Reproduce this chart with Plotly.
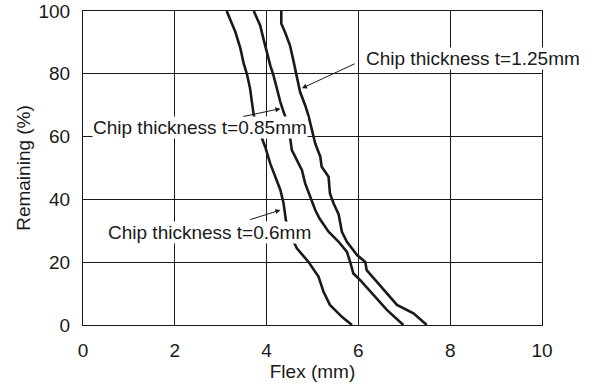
import plotly.graph_objects as go

# Curve data
x_t060 = [3.13, 3.32, 3.43, 3.50, 3.57, 3.64, 3.68, 3.72, 3.86, 3.97, 4.08, 4.19, 4.30, 4.37,
          4.42, 4.55, 4.66, 4.91, 5.13, 5.24, 5.38, 5.64, 5.86]
y_t060 = [100, 93.3, 88, 83.3, 80, 75.3, 71, 66.8, 61, 56.7, 51.4, 47.2, 43, 38.7,
          33.4, 27.6, 24.4, 20.1, 15.4, 10.6, 6.4, 2.6, 0]

x_t085 = [3.72, 3.86, 3.93, 4.00, 4.08, 4.15, 4.22, 4.30, 4.37, 4.44, 4.51, 4.55, 4.66, 4.77,
          4.84, 4.95, 5.06, 5.15, 5.35, 5.57, 5.75, 5.82, 5.89, 6.04, 6.33, 6.62, 6.98]
y_t085 = [100, 95.4, 91.2, 87, 82.7, 79.5, 75.3, 71, 67.9, 65, 59.9, 55.7, 52.5, 49.3,
          45.1, 40.8, 36.6, 34, 29.7, 26.5, 23.3, 20.1, 16.4, 14.3, 9.5, 4.8, 0]

x_t125 = [4.32, 4.32, 4.40, 4.51, 4.59, 4.66, 4.73, 4.84, 4.91, 4.99, 5.06, 5.17, 5.20, 5.35,
          5.38, 5.46, 5.57, 5.64, 5.75, 5.97, 6.15, 6.18, 6.40, 6.62, 6.84, 7.20, 7.49]
y_t125 = [100, 96, 93.3, 89, 83.8, 78.5, 74.2, 70, 66.8, 62, 57.8, 53.6, 50.4, 47.2,
          41.9, 38.7, 35.2, 29.7, 26.5, 22.3, 20.1, 17.5, 13.8, 10.1, 6.4, 3.7, 0]

labels = ["Chip thickness t=0.6mm", "Chip thickness t=0.85mm", "Chip thickness t=1.25mm"]
x_ticks = [0, 2, 4, 6, 8, 10]
y_ticks = [0, 20, 40, 60, 80, 100]

FONT = "Liberation Sans, Arial, sans-serif"
INK = "#1a1a1a"

fig = go.Figure()
for xs, ys, name in [(x_t060, y_t060, labels[0]), (x_t085, y_t085, labels[1]), (x_t125, y_t125, labels[2])]:
    fig.add_trace(go.Scatter(x=xs, y=ys, mode="lines", name=name,
                             line=dict(color=INK, width=2.6), showlegend=False))

# label text (white box) and arrows
text_pos = [(0.53, 29.6, labels[0]), (0.196, 63.0, labels[1]), (6.15, 85.0, labels[2])]
arrows = [((3.61, 33.4), (4.30, 36.6)), ((3.46, 66.3), (4.30, 68.9)), ((5.95, 83.4), (4.77, 75.4))]

annotations = []
for tx, ty, t in text_pos:
    annotations.append(dict(x=tx, y=ty, xref="x", yref="y", text=t, showarrow=False,
                            xanchor="left", yanchor="middle", bgcolor="white", borderpad=0,
                            font=dict(family=FONT, size=19, color=INK)))
for (tx, ty), (hx, hy) in arrows:
    annotations.append(dict(x=hx, y=hy, ax=tx, ay=ty, xref="x", yref="y", axref="x", ayref="y",
                            text="", showarrow=True, arrowhead=2, arrowsize=1, arrowwidth=1,
                            arrowcolor=INK, standoff=0, startstandoff=0))

fig.update_layout(
    width=595, height=384,
    margin=dict(l=83, r=53, t=11, b=59),
    paper_bgcolor="white", plot_bgcolor="white",
    font=dict(family=FONT, size=19, color=INK),
    annotations=annotations,
    xaxis=dict(range=[0, 10], tickvals=x_ticks, showgrid=True, gridcolor=INK, gridwidth=1,
               showline=True, linecolor=INK, linewidth=1, mirror=True, zeroline=False,
               ticks="", ticklabelstandoff=8, automargin=False,
               title=dict(text="Flex (mm)", standoff=0, font=dict(size=19))),
    yaxis=dict(range=[0, 100], tickvals=y_ticks, showgrid=True, gridcolor=INK, gridwidth=1,
               showline=True, linecolor=INK, linewidth=1, mirror=True, zeroline=False,
               ticks="", ticklabelstandoff=8, automargin=False,
               title=dict(text="Remaining (%)", standoff=2, font=dict(size=19))),
)

# remove the default 8px page margin so the figure sits at the window's top-left corner
fig.write_html("out.html", config={"displayModeBar": False},
               post_script="document.body.style.margin='0';")
